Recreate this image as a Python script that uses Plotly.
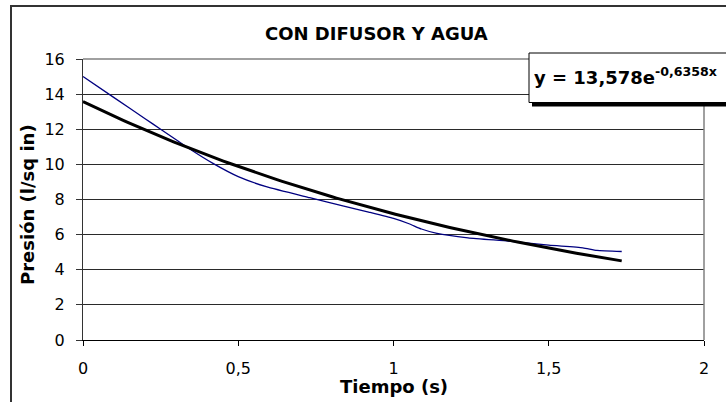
import numpy as np
import plotly.graph_objects as go

# Measured pressure vs time
tiempo = [0, 0.1, 0.2, 0.25, 0.3, 0.345, 0.42, 0.5, 0.59, 0.73, 0.84, 0.92,
          1.0, 1.05, 1.09, 1.14, 1.24, 1.37, 1.5, 1.61, 1.655, 1.735]
presion = [15.0, 13.8, 12.6, 12.0, 11.4, 10.86, 10.04, 9.3, 8.73, 8.1, 7.62, 7.28,
           6.92, 6.62, 6.32, 6.07, 5.82, 5.63, 5.40, 5.25, 5.10, 5.04]

# Exponential trendline coefficients (y = a * e^(b x))
coef_a = 13.578
coef_b = -0.6358

x_ticks = [0, 0.5, 1, 1.5, 2]
x_ticktext = ["0", "0,5", "1", "1,5", "2"]
y_ticks = [0, 2, 4, 6, 8, 10, 12, 14, 16]

titulo = "CON DIFUSOR Y AGUA"
eje_x = "Tiempo (s)"
eje_y = "Presión (l/sq in)"
ecuacion = "y = 13,578e<sup>-0,6358x</sup>"

t_fit = np.linspace(0, max(tiempo), 120)
p_fit = coef_a * np.exp(coef_b * t_fit)

# Figure geometry (pixels)
W, H = 726, 402
ML, MR, MT, MB = 83, 22, 59, 62
PW, PH = W - ML - MR, H - MT - MB


def px(x):
    return (x - ML) / PW


def py(y):
    return (H - MB - y) / PH


FONT = "DejaVu Sans"

fig = go.Figure()
fig.add_trace(go.Scatter(x=tiempo, y=presion, mode="lines",
                         line=dict(color="#000080", width=1.3, shape="spline", smoothing=0.5),
                         showlegend=False, hoverinfo="skip"))
fig.add_trace(go.Scatter(x=t_fit, y=p_fit, mode="lines",
                         line=dict(color="black", width=3),
                         showlegend=False, hoverinfo="skip"))

fig.update_layout(
    width=W, height=H,
    margin=dict(l=ML, r=MR, t=MT, b=MB, pad=0),
    paper_bgcolor="white", plot_bgcolor="white",
    separators=",.",
    font=dict(family=FONT, size=16, color="black"),
    xaxis=dict(range=[0, 2], tickvals=x_ticks, ticktext=x_ticktext,
               showgrid=False, zeroline=False,
               showline=True, linecolor="black", linewidth=1,
               ticks="outside", ticklen=5, tickcolor="black", tickwidth=1,
               ticklabelstandoff=9,
               tickfont=dict(family=FONT, size=16, color="black")),
    yaxis=dict(range=[0, 16], tickvals=y_ticks,
               showgrid=True, gridcolor="#2a2a2a", gridwidth=1,
               zeroline=False,
               showline=True, linecolor="#333333", linewidth=1,
               ticks="outside", ticklen=6, tickcolor="#333333", tickwidth=1,
               ticklabelstandoff=8,
               tickfont=dict(family=FONT, size=16, color="black")),
)

shapes = [
    # plot area border (top and right, gray)
    dict(type="line", xref="paper", yref="paper", x0=0, x1=1, y0=1, y1=1,
         line=dict(color="#808080", width=1.5), layer="above"),
    dict(type="line", xref="paper", yref="paper", x0=1, x1=1, y0=0, y1=1,
         line=dict(color="#808080", width=1.5), layer="above"),
    # outer chart frame
    dict(type="rect", xref="paper", yref="paper",
         x0=px(11), x1=px(W + 40), y0=py(H + 40), y1=py(6),
         line=dict(color="#333333", width=2), fillcolor="rgba(0,0,0,0)", layer="above"),
    # equation box shadow
    dict(type="rect", xref="paper", yref="paper",
         x0=px(532), x1=px(W + 40), y0=py(106.5), y1=py(99),
         line=dict(width=0), fillcolor="black", layer="above"),
    # equation box
    dict(type="rect", xref="paper", yref="paper",
         x0=px(529), x1=px(W + 30), y0=py(102.5), y1=py(53),
         line=dict(color="black", width=1), fillcolor="white", layer="above"),
]
fig.update_layout(shapes=shapes)

annotations = [
    dict(text=titulo, xref="paper", yref="paper", x=px(376.5), y=py(33),
         xanchor="center", yanchor="middle", showarrow=False,
         font=dict(family=FONT, size=18, color="black", weight="bold")),
    dict(text=eje_x, xref="paper", yref="paper", x=px(393.5), y=py(386.5),
         xanchor="center", yanchor="middle", showarrow=False,
         font=dict(family=FONT, size=18, color="black", weight="bold")),
    dict(text=eje_y, xref="paper", yref="paper", x=px(27), y=py(205),
         xanchor="center", yanchor="middle", showarrow=False, textangle=-90,
         font=dict(family=FONT, size=18, color="black", weight="bold")),
    dict(text=ecuacion, xref="paper", yref="paper", x=px(532), y=py(76),
         xanchor="left", yanchor="middle", showarrow=False,
         font=dict(family=FONT, size=18, color="black", weight="bold")),
]
fig.update_layout(annotations=annotations)

fig.write_html("out.html")
